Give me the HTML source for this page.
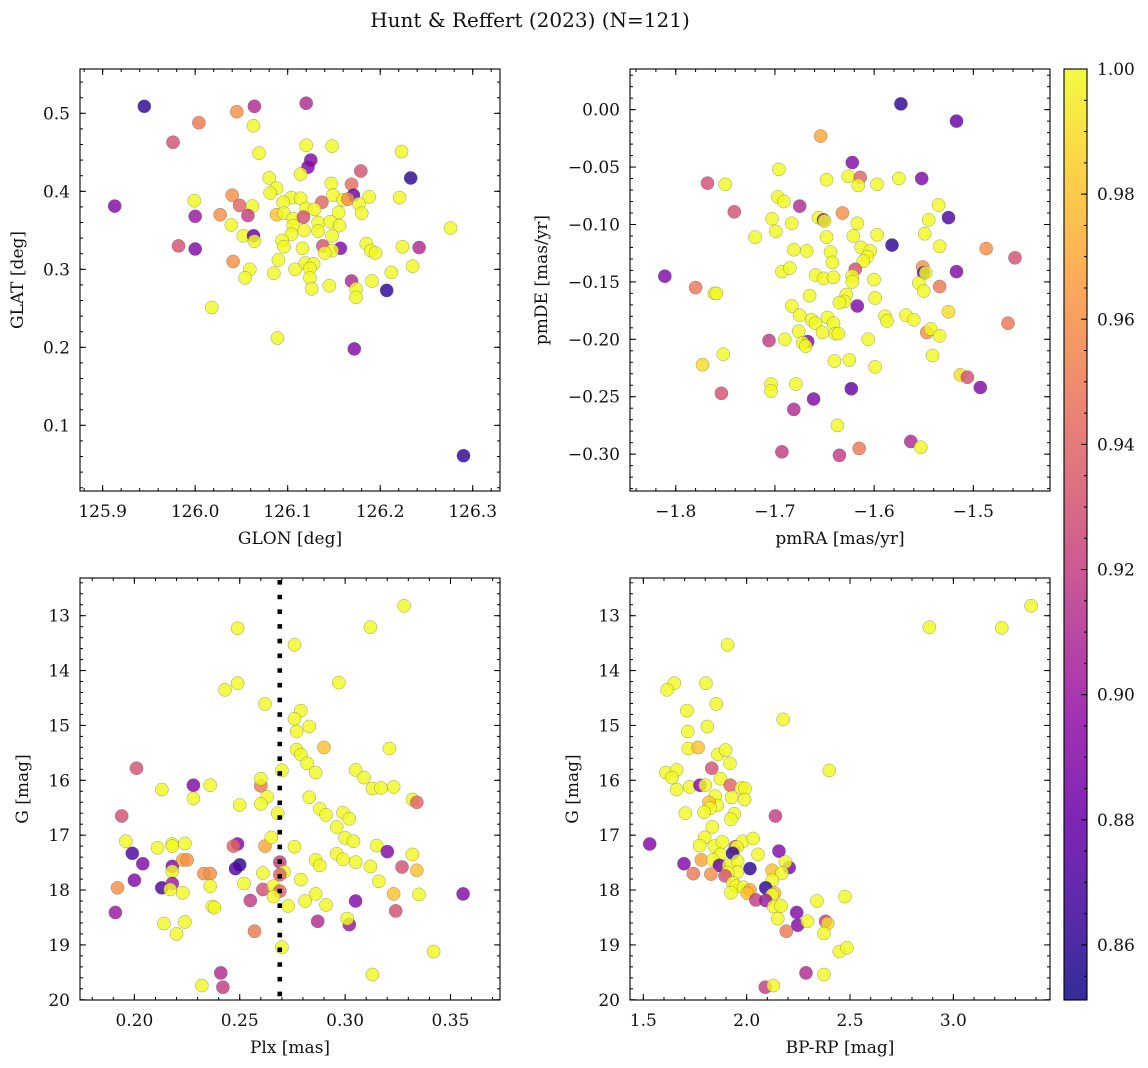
<!DOCTYPE html>
<html><head><meta charset="utf-8">
<style>
html,body{margin:0;padding:0;background:#fff;}
svg{display:block;font-family:"DejaVu Serif","Liberation Serif",serif;}
</style></head>
<body>
<svg id="fig" width="1148" height="1068" viewBox="0 0 1148 1068" xmlns="http://www.w3.org/2000/svg">
<rect width="1148" height="1068" fill="#fff"/>
<text x="530" y="27" font-size="20" text-anchor="middle" fill="#111">Hunt &amp; Reffert (2023) (N=121)</text>
<g id="p1"></g>
<g id="p2"></g>
<g id="p3"></g>
<g id="p4"></g>
<g id="cb"></g>
</svg>
<script>
// ---- data ----
const glon=[125.945,126.120,126.045,126.064,126.004,126.063,125.976,126.069,126.120,126.148,126.223,126.125,126.122,126.114,126.179,126.233,126.080,126.169,126.147,126.088,126.081,126.171,126.188,126.221,126.149,126.040,125.999,126.104,126.114,126.095,126.137,126.160,126.165,126.177,126.048,126.062,125.913,126.000,126.027,126.057,126.088,126.096,126.180,126.120,126.129,126.155,126.106,126.117,126.133,126.146,126.156,126.039,126.106,126.118,126.133,126.104,126.052,126.063,126.064,126.148,126.094,126.096,126.116,126.138,126.157,126.148,126.140,126.185,126.190,126.195,126.224,126.242,126.276,125.982,126.000,126.041,126.059,126.054,126.085,126.090,126.108,126.119,126.128,126.124,126.124,126.126,126.145,126.169,126.174,126.174,126.191,126.207,126.212,126.235,126.018,126.089,126.172,126.290];
const glat=[0.509,0.513,0.502,0.509,0.488,0.484,0.463,0.449,0.459,0.458,0.451,0.440,0.431,0.422,0.426,0.417,0.417,0.409,0.410,0.404,0.398,0.395,0.393,0.392,0.395,0.395,0.388,0.392,0.391,0.386,0.386,0.389,0.390,0.384,0.382,0.381,0.381,0.368,0.370,0.369,0.370,0.372,0.372,0.378,0.377,0.373,0.365,0.367,0.360,0.361,0.356,0.357,0.356,0.350,0.349,0.345,0.343,0.343,0.336,0.343,0.337,0.329,0.327,0.330,0.327,0.324,0.321,0.333,0.324,0.321,0.329,0.328,0.353,0.330,0.326,0.310,0.300,0.289,0.295,0.312,0.300,0.308,0.307,0.301,0.289,0.275,0.279,0.285,0.275,0.264,0.285,0.273,0.296,0.304,0.251,0.212,0.198,0.061];
const prob1=[.86,.91,.96,.91,.95,1,.93,1,1,1,1,.89,.89,1,.93,.86,1,.945,1,1,1,.88,1,1,1,.96,1,1,1,1,.94,1,.96,1,.94,1,.89,.90,.96,.92,.98,1,1,1,1,1,1,.93,1,1,1,1,1,1,1,1,1,.88,1,1,1,1,1,.93,.89,1,1,1,1,1,1,.91,1,.93,.89,.96,1,1,1,1,1,1,1,1,1,1,1,.91,1,1,1,.86,1,1,1,1,.89,.86];

const pmra=[-1.573,-1.517,-1.654,-1.622,-1.696,-1.768,-1.750,-1.648,-1.626,-1.614,-1.616,-1.597,-1.575,-1.552,-1.697,-1.691,-1.675,-1.741,-1.703,-1.656,-1.651,-1.650,-1.632,-1.617,-1.535,-1.545,-1.525,-1.720,-1.699,-1.683,-1.648,-1.621,-1.597,-1.549,-1.582,-1.534,-1.487,-1.458,-1.681,-1.668,-1.644,-1.642,-1.613,-1.604,-1.607,-1.611,-1.693,-1.685,-1.659,-1.651,-1.641,-1.619,-1.622,-1.622,-1.600,-1.551,-1.550,-1.548,-1.517,-1.811,-1.780,-1.761,-1.759,-1.555,-1.534,-1.550,-1.665,-1.628,-1.630,-1.635,-1.599,-1.617,-1.683,-1.675,-1.663,-1.659,-1.647,-1.641,-1.652,-1.639,-1.636,-1.589,-1.587,-1.568,-1.560,-1.525,-1.465,-1.676,-1.667,-1.672,-1.669,-1.706,-1.690,-1.606,-1.547,-1.543,-1.534,-1.752,-1.773,-1.640,-1.625,-1.599,-1.541,-1.513,-1.506,-1.493,-1.704,-1.704,-1.679,-1.754,-1.623,-1.661,-1.681,-1.637,-1.563,-1.553,-1.693,-1.635,-1.615];
const pmde=[0.005,-0.010,-0.023,-0.046,-0.052,-0.064,-0.065,-0.061,-0.058,-0.059,-0.066,-0.065,-0.060,-0.060,-0.076,-0.080,-0.084,-0.089,-0.095,-0.094,-0.096,-0.097,-0.090,-0.099,-0.083,-0.096,-0.094,-0.111,-0.106,-0.099,-0.111,-0.110,-0.109,-0.108,-0.118,-0.119,-0.121,-0.129,-0.122,-0.123,-0.124,-0.133,-0.120,-0.123,-0.128,-0.132,-0.141,-0.138,-0.144,-0.147,-0.146,-0.139,-0.145,-0.150,-0.148,-0.137,-0.142,-0.142,-0.141,-0.145,-0.155,-0.160,-0.160,-0.151,-0.154,-0.158,-0.162,-0.161,-0.167,-0.168,-0.164,-0.171,-0.171,-0.179,-0.183,-0.186,-0.181,-0.186,-0.194,-0.195,-0.195,-0.180,-0.184,-0.179,-0.183,-0.176,-0.186,-0.193,-0.202,-0.203,-0.206,-0.201,-0.200,-0.200,-0.194,-0.191,-0.197,-0.213,-0.222,-0.219,-0.218,-0.224,-0.214,-0.231,-0.233,-0.242,-0.239,-0.245,-0.239,-0.247,-0.243,-0.252,-0.261,-0.275,-0.289,-0.294,-0.298,-0.301,-0.295];
const prob2=[.86,.88,.97,.89,1,.93,1,1,1,.94,1,1,1,.89,1,1,.91,.93,1,1,.89,1,.96,1,1,1,.87,1,1,1,1,1,1,1,.86,1,.96,.93,1,1,1,1,1,1,1,1,1,1,1,1,1,.93,1,1,1,.96,.87,1,.89,.89,.95,1,1,1,.95,1,1,1,1,1,1,.89,1,1,1,1,1,1,1,1,1,1,1,1,1,.99,.95,1,.89,1,1,.92,1,1,.96,1,1,1,.99,1,1,1,1,.99,.93,.89,1,1,1,.93,.88,.89,.91,1,.91,1,.92,.92,.95];

const plx=[0.328,0.312,0.249,0.276,0.297,0.249,0.243,0.262,0.279,0.276,0.283,0.277,0.290,0.321,0.277,0.279,0.282,0.270,0.286,0.305,0.309,0.313,0.317,0.323,0.201,0.213,0.228,0.236,0.228,0.260,0.260,0.263,0.260,0.250,0.283,0.288,0.291,0.299,0.302,0.296,0.332,0.334,0.268,0.194,0.196,0.211,0.218,0.218,0.224,0.199,0.204,0.218,0.218,0.223,0.225,0.249,0.247,0.262,0.265,0.276,0.300,0.304,0.315,0.320,0.332,0.296,0.299,0.305,0.312,0.327,0.334,0.286,0.288,0.269,0.271,0.269,0.250,0.248,0.233,0.236,0.261,0.279,0.316,0.200,0.192,0.213,0.218,0.217,0.223,0.236,0.252,0.261,0.266,0.269,0.266,0.255,0.286,0.281,0.291,0.273,0.305,0.323,0.335,0.356,0.324,0.191,0.237,0.238,0.214,0.224,0.220,0.287,0.302,0.301,0.257,0.270,0.342,0.313,0.241,0.242,0.232];
const gmag3=[12.82,13.21,13.23,13.53,14.22,14.23,14.35,14.61,14.73,14.88,15.02,15.11,15.40,15.42,15.44,15.53,15.69,15.82,15.86,15.81,15.95,16.15,16.14,16.12,15.78,16.17,16.09,16.09,16.33,16.10,15.97,16.30,16.43,16.45,16.31,16.52,16.63,16.59,16.70,16.85,16.35,16.40,16.60,16.65,17.11,17.23,17.16,17.20,17.15,17.33,17.52,17.57,17.66,17.45,17.45,17.16,17.20,17.20,17.04,17.21,17.05,17.11,17.19,17.30,17.35,17.34,17.44,17.49,17.57,17.58,17.64,17.45,17.55,17.49,17.67,17.72,17.54,17.61,17.70,17.70,17.69,17.81,17.84,17.82,17.96,17.96,17.88,17.99,18.05,17.93,17.88,17.99,17.93,18.02,18.12,18.19,18.07,18.20,18.27,18.29,18.20,18.07,18.08,18.07,18.38,18.41,18.30,18.32,18.61,18.58,18.80,18.57,18.63,18.52,18.75,19.04,19.12,19.54,19.51,19.77,19.74];
const prob3=[1,1,1,1,1,1,1,1,1,1,1,1,.98,1,1,1,1,1,1,1,1,1,1,1,.93,1,.89,1,1,.95,1,1,1,1,1,1,1,1,1,1,1,.94,1,.93,1,1,1,1,1,.87,.89,.89,1,.97,.96,.89,.94,.97,1,1,1,1,1,.89,1,1,1,1,1,.93,.98,1,1,.92,1,.94,.86,.87,.96,.96,1,1,1,.89,.96,.87,.9,1,1,1,1,.93,1,.94,1,.92,1,1,1,1,.89,.98,1,.89,.93,.9,1,1,1,1,1,.91,.9,1,.95,1,1,1,.91,.92,1];
const plxCut=[0.269];

const bprp=[3.376,2.884,3.234,1.908,1.650,1.615,1.803,1.853,2.177,1.711,1.715,1.810,1.718,1.765,1.861,1.898,1.919,1.610,1.661,1.639,2.400,1.831,1.873,1.661,1.724,1.774,1.800,1.921,1.974,1.992,1.927,1.990,1.848,1.858,1.818,1.823,1.794,1.703,1.940,1.924,2.139,1.834,1.531,1.797,1.773,1.844,1.882,1.945,1.982,2.031,2.055,1.953,1.873,1.932,2.156,1.697,1.781,1.837,1.868,1.742,1.827,1.913,1.956,1.955,2.016,1.908,1.895,2.206,2.187,2.123,2.171,2.124,1.934,1.948,1.985,2.016,2.003,1.924,2.092,2.135,2.123,2.044,2.092,2.131,2.166,2.150,2.242,2.247,2.294,2.192,2.340,2.476,2.382,2.392,2.374,2.448,2.485,2.287,2.374,2.090,2.129];
const gmag4=[12.82,13.21,13.22,13.53,14.23,14.35,14.23,14.61,14.89,14.73,15.11,15.02,15.42,15.40,15.53,15.45,15.69,15.86,15.81,15.95,15.82,15.78,15.97,16.17,16.12,16.09,16.09,16.09,16.14,16.15,16.31,16.35,16.29,16.46,16.40,16.51,16.58,16.60,16.61,16.71,16.65,16.85,17.16,17.04,17.19,17.20,17.12,17.21,17.11,17.06,17.35,17.22,17.35,17.33,17.29,17.52,17.45,17.45,17.55,17.70,17.71,17.55,17.47,17.67,17.61,17.68,17.74,17.59,17.49,17.64,17.69,17.82,17.87,17.93,17.95,18.00,18.06,18.05,17.96,18.06,18.09,18.18,18.19,18.30,18.29,18.52,18.41,18.64,18.57,18.75,18.20,18.12,18.57,18.61,18.79,19.12,19.05,19.51,19.54,19.77,19.74];
const prob4=[1,1,1,1,1,1,1,1,1,1,1,1,1,.98,1,1,1,1,1,1,1,.93,1,1,1,.89,1,.94,1,1,1,1,1,1,.98,1,1,1,1,1,.92,1,.89,1,1,1,1,.93,1,1,1,1,1,.86,.89,.89,.97,1,.88,.95,.96,1,1,1,.86,1,.93,.89,1,.98,1,1,1,1,1,.97,.98,1,.86,.98,1,.92,.9,1,1,1,.89,.89,1,.95,1,1,.92,.99,1,1,1,.91,1,.92,1];

// tick label arrays
const ticks1x=[125.9,126.0,126.1,126.2,126.3];
const ticks1y=[0.1,0.2,0.3,0.4,0.5];
const ticks2x=[-1.8,-1.7,-1.6,-1.5];
const ticks2y=[0.00,-0.05,-0.10,-0.15,-0.20,-0.25,-0.30];
const ticks3x=[0.20,0.25,0.30,0.35];
const ticksG=[13,14,15,16,17,18,19,20];
const ticks4x=[1.5,2.0,2.5,3.0];
const ticksCb=[0.86,0.88,0.90,0.92,0.94,0.96,0.98,1.00];
const cbMin=0.8512, cbMax=1.0;

// ---- helpers ----
const NS="http://www.w3.org/2000/svg";
function mk(tag,attrs,parent){const e=document.createElementNS(NS,tag);for(const k in attrs)e.setAttribute(k,attrs[k]);parent.appendChild(e);return e;}
const plasma=[[13,8,135],[65,4,157],[106,0,168],[143,13,164],[177,42,144],[204,71,120],[225,100,98],[242,132,75],[252,166,54],[252,206,37],[240,249,33]];
function cmap(t){t=Math.max(0,Math.min(1,t));const f=t*10,i=Math.min(9,Math.floor(f)),r=f-i;const a=plasma[i],b=plasma[i+1];
 return `rgb(${Math.round(a[0]+(b[0]-a[0])*r)},${Math.round(a[1]+(b[1]-a[1])*r)},${Math.round(a[2]+(b[2]-a[2])*r)})`;}
function pcol(p){return cmap((p-cbMin)/(cbMax-cbMin));}
function fmt(v,d){const s=Math.abs(v).toFixed(d);return (v<-1e-9?"\u2212":"")+s;}
const FS=17;

function panel(g,box,xd,yd,xt,yt,xdec,ydec,xminor,yminor,xlab,ylab,ylabX,xs,ys,ps){
 const X=v=>box.l+(v-xd[0])/(xd[1]-xd[0])*(box.r-box.l);
 const Y=v=>box.t+(v-yd[0])/(yd[1]-yd[0])*(box.b-box.t);
 const n=Math.min(xs.length,ys.length,ps.length);
 const pts=mk('g',{},g);
 
 
 for(let i=0;i<n;i++){
  const c=mk('circle',{cx:X(xs[i]).toFixed(1),cy:Y(ys[i]).toFixed(1),r:6.6,fill:pcol(ps[i]),'fill-opacity':0.82,stroke:'#555','stroke-width':0.4,'stroke-opacity':0.7},pts);
  
  
 }
 const fr=mk('rect',{x:box.l,y:box.t,width:box.r-box.l,height:box.b-box.t,fill:'none',stroke:'#000','stroke-width':1.1},g);
 
 
 const tk=mk('g',{stroke:'#000','stroke-width':1},g);
 
 
 const lo=Math.min(xd[0],xd[1]),hi=Math.max(xd[0],xd[1]);
 for(let v=Math.ceil(lo/xminor-1e-6)*xminor;v<=hi+1e-9;v+=xminor){const x=X(v);
  mk('line',{x1:x,x2:x,y1:box.b,y2:box.b-3},tk);mk('line',{x1:x,x2:x,y1:box.t,y2:box.t+3},tk);}
 const ylo=Math.min(yd[0],yd[1]),yhi=Math.max(yd[0],yd[1]);
 for(let v=Math.ceil(ylo/yminor-1e-6)*yminor;v<=yhi+1e-9;v+=yminor){const y=Y(v);
  mk('line',{x1:box.l,x2:box.l+3,y1:y,y2:y},tk);mk('line',{x1:box.r,x2:box.r-3,y1:y,y2:y},tk);}
 xt.forEach(v=>{const x=X(v);
  mk('line',{x1:x,x2:x,y1:box.b,y2:box.b-6},tk);mk('line',{x1:x,x2:x,y1:box.t,y2:box.t+6},tk);
  const t=mk('text',{x:x,y:box.b+26,'font-size':FS,'text-anchor':'middle',fill:'#111'},g);t.textContent=fmt(v,xdec);
  
  });
 yt.forEach(v=>{const y=Y(v);
  mk('line',{x1:box.l,x2:box.l+6,y1:y,y2:y},tk);mk('line',{x1:box.r,x2:box.r-6,y1:y,y2:y},tk);
  const t=mk('text',{x:box.l-10,y:y+6,'font-size':FS,'text-anchor':'end',fill:'#111'},g);t.textContent=fmt(v,ydec);
  
  });
 const xl=mk('text',{x:(box.l+box.r)/2,y:box.b+53,'font-size':FS,'text-anchor':'middle',fill:'#111'},g);xl.textContent=xlab;
 
 
 const cy=(box.t+box.b)/2;
 const yl=mk('text',{x:ylabX,y:cy,'font-size':FS,'text-anchor':'middle',fill:'#111',transform:`rotate(-90 ${ylabX} ${cy})`},g);yl.textContent=ylab;
 
 
 return {X,Y};
}

const B1={l:80,r:500,t:69,b:491},B2={l:630,r:1050,t:69,b:491},B3={l:80,r:500,t:578,b:1000},B4={l:630,r:1050,t:578,b:1000};
panel(document.getElementById('p1'),B1,[125.8755,126.3295],[0.5568,0.0158],ticks1x,ticks1y,1,1,0.02,0.02,'GLON [deg]','GLAT [deg]',23,glon,glat,prob1);
panel(document.getElementById('p2'),B2,[-1.8461,-1.4227],[0.0354,-0.3321],ticks2x,ticks2y,1,2,0.02,0.01,'pmRA [mas/yr]','pmDE [mas/yr]',547,pmra,pmde,prob2);
const a3=panel(document.getElementById('p3'),B3,[0.1742,0.3735],[12.313,20.004],ticks3x,ticksG,2,0,0.01,0.2,'Plx [mas]','G [mag]',28,plx,gmag3,prob3);
panel(document.getElementById('p4'),B4,[1.4356,3.4676],[12.313,20.004],ticks4x,ticksG,1,0,0.1,0.2,'BP-RP [mag]','G [mag]',578,bprp,gmag4,prob4);

// dotted parallax cut line
plxCut.forEach(v=>{
 const l=mk('line',{x1:a3.X(v),x2:a3.X(v),y1:B3.t+2,y2:B3.b,stroke:'#000','stroke-width':4.6,'stroke-dasharray':'4.6 10.1'},document.getElementById('p3'));
 
 
});

// colorbar
(function(){
 const g=document.getElementById('cb');
 const cb={l:1064,r:1087,t:69,b:1000};
 const defs=mk('defs',{},g);
 const lg=mk('linearGradient',{id:'plasmaGrad',x1:0,y1:1,x2:0,y2:0},defs);
 for(let i=0;i<=20;i++){mk('stop',{offset:(i/20),'stop-color':cmap(i/20),'stop-opacity':0.85},lg);}
 const r=mk('rect',{x:cb.l,y:cb.t,width:cb.r-cb.l,height:cb.b-cb.t,fill:'url(#plasmaGrad)',stroke:'#000','stroke-width':1.1},g);
 
 
 const Y=v=>cb.b-(v-cbMin)/(cbMax-cbMin)*(cb.b-cb.t);
 for(let v=0.855;v<=1.0001;v+=0.005){const y=Y(v);mk('line',{x1:cb.r,x2:cb.r-3,y1:y,y2:y,stroke:'#000'},g);}
 ticksCb.forEach(v=>{const y=Y(v);
  mk('line',{x1:cb.r,x2:cb.r-6,y1:y,y2:y,stroke:'#000'},g);
  const t=mk('text',{x:cb.r+10,y:y+6,'font-size':FS,fill:'#111'},g);t.textContent=v.toFixed(2);
  
  });
})();
</script>
</body></html>
